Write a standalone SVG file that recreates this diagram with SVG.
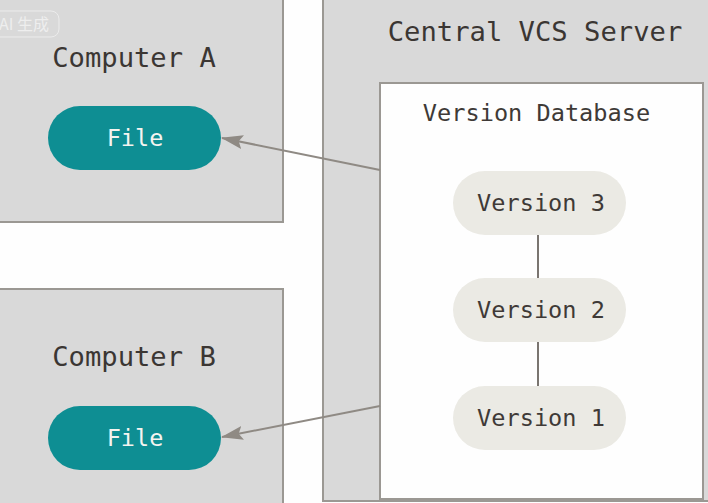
<svg xmlns="http://www.w3.org/2000/svg" width="708" height="503" viewBox="0 0 708 503">
<style>
.box{fill:#d9d9d9;stroke:#9b9893;stroke-width:2}
.db{fill:#fefefe;stroke:#9b9893;stroke-width:2}
.title{font-family:"DejaVu Sans Mono","Liberation Mono",monospace;font-size:27.2px;fill:#3b3633;text-anchor:middle}
.file{fill:#0e8e93}
.filet{font-family:"DejaVu Sans Mono","Liberation Mono",monospace;font-size:23.5px;fill:#f4f4f0;text-anchor:middle}
.ver{fill:#ebeae4}
.vert{font-family:"DejaVu Sans Mono","Liberation Mono",monospace;font-size:23.6px;fill:#3f3a37;text-anchor:middle}
.conn{stroke:#8f8a84;stroke-width:2;fill:none}
.vline{stroke:#7a7570;stroke-width:2;fill:none}
</style>
<defs>
<marker id="ah" markerWidth="22" markerHeight="14" refX="21" refY="7" orient="auto" markerUnits="userSpaceOnUse" viewBox="0 0 22 14">
<path d="M0,0 L22,7 L0,14 L4,7 Z" fill="#8f8a84"/>
</marker>
</defs>
<rect width="708" height="503" fill="#fefefe"/>
<g id="computerA">
<rect class="box" x="-5" y="-5" width="288" height="227"/>
<text class="title" x="134" y="67">Computer A</text>
</g>
<g id="computerB">
<rect class="box" x="-5" y="289" width="288" height="220"/>
<text class="title" x="134" y="366">Computer B</text>
</g>
<g id="server">
<rect class="box" x="323" y="-5" width="395" height="506"/>
<text class="title" x="535" y="41">Central VCS Server</text>
</g>
<g id="database">
<rect class="db" x="380" y="83" width="323" height="416"/>
<text class="vert" x="536.5" y="121">Version Database</text>
</g>
<g id="fileA">
<rect class="file" x="48" y="106" width="173" height="64" rx="32"/>
<text class="filet" x="135" y="146">File</text>
</g>
<g id="fileB">
<rect class="file" x="48" y="406" width="173" height="64" rx="32"/>
<text class="filet" x="135" y="446">File</text>
</g>
<g id="version3">
<rect class="ver" x="453" y="171" width="173" height="64" rx="32"/>
<text class="vert" x="541" y="211">Version 3</text>
</g>
<g id="version2">
<rect class="ver" x="453" y="278" width="173" height="64" rx="32"/>
<text class="vert" x="541" y="318">Version 2</text>
</g>
<g id="version1">
<rect class="ver" x="453" y="386" width="173" height="64" rx="32"/>
<text class="vert" x="541" y="426">Version 1</text>
</g>
<g id="connectors">
<line class="conn" x1="380" y1="170" x2="222" y2="138" marker-end="url(#ah)"/>
<line class="conn" x1="380" y1="406" x2="222" y2="437" marker-end="url(#ah)"/>
<line class="vline" x1="538" y1="235" x2="538" y2="278"/>
<line class="vline" x1="538" y1="342" x2="538" y2="386"/>
</g>
<g id="watermark">
<rect x="-10" y="11" width="69" height="26" rx="8" fill="none" stroke="#ececec" stroke-width="1"/>
<text x="-1" y="30" font-family="Noto Sans CJK SC, sans-serif" font-size="16" fill="#eeeeee">AI 生成</text>
</g>
</svg>
